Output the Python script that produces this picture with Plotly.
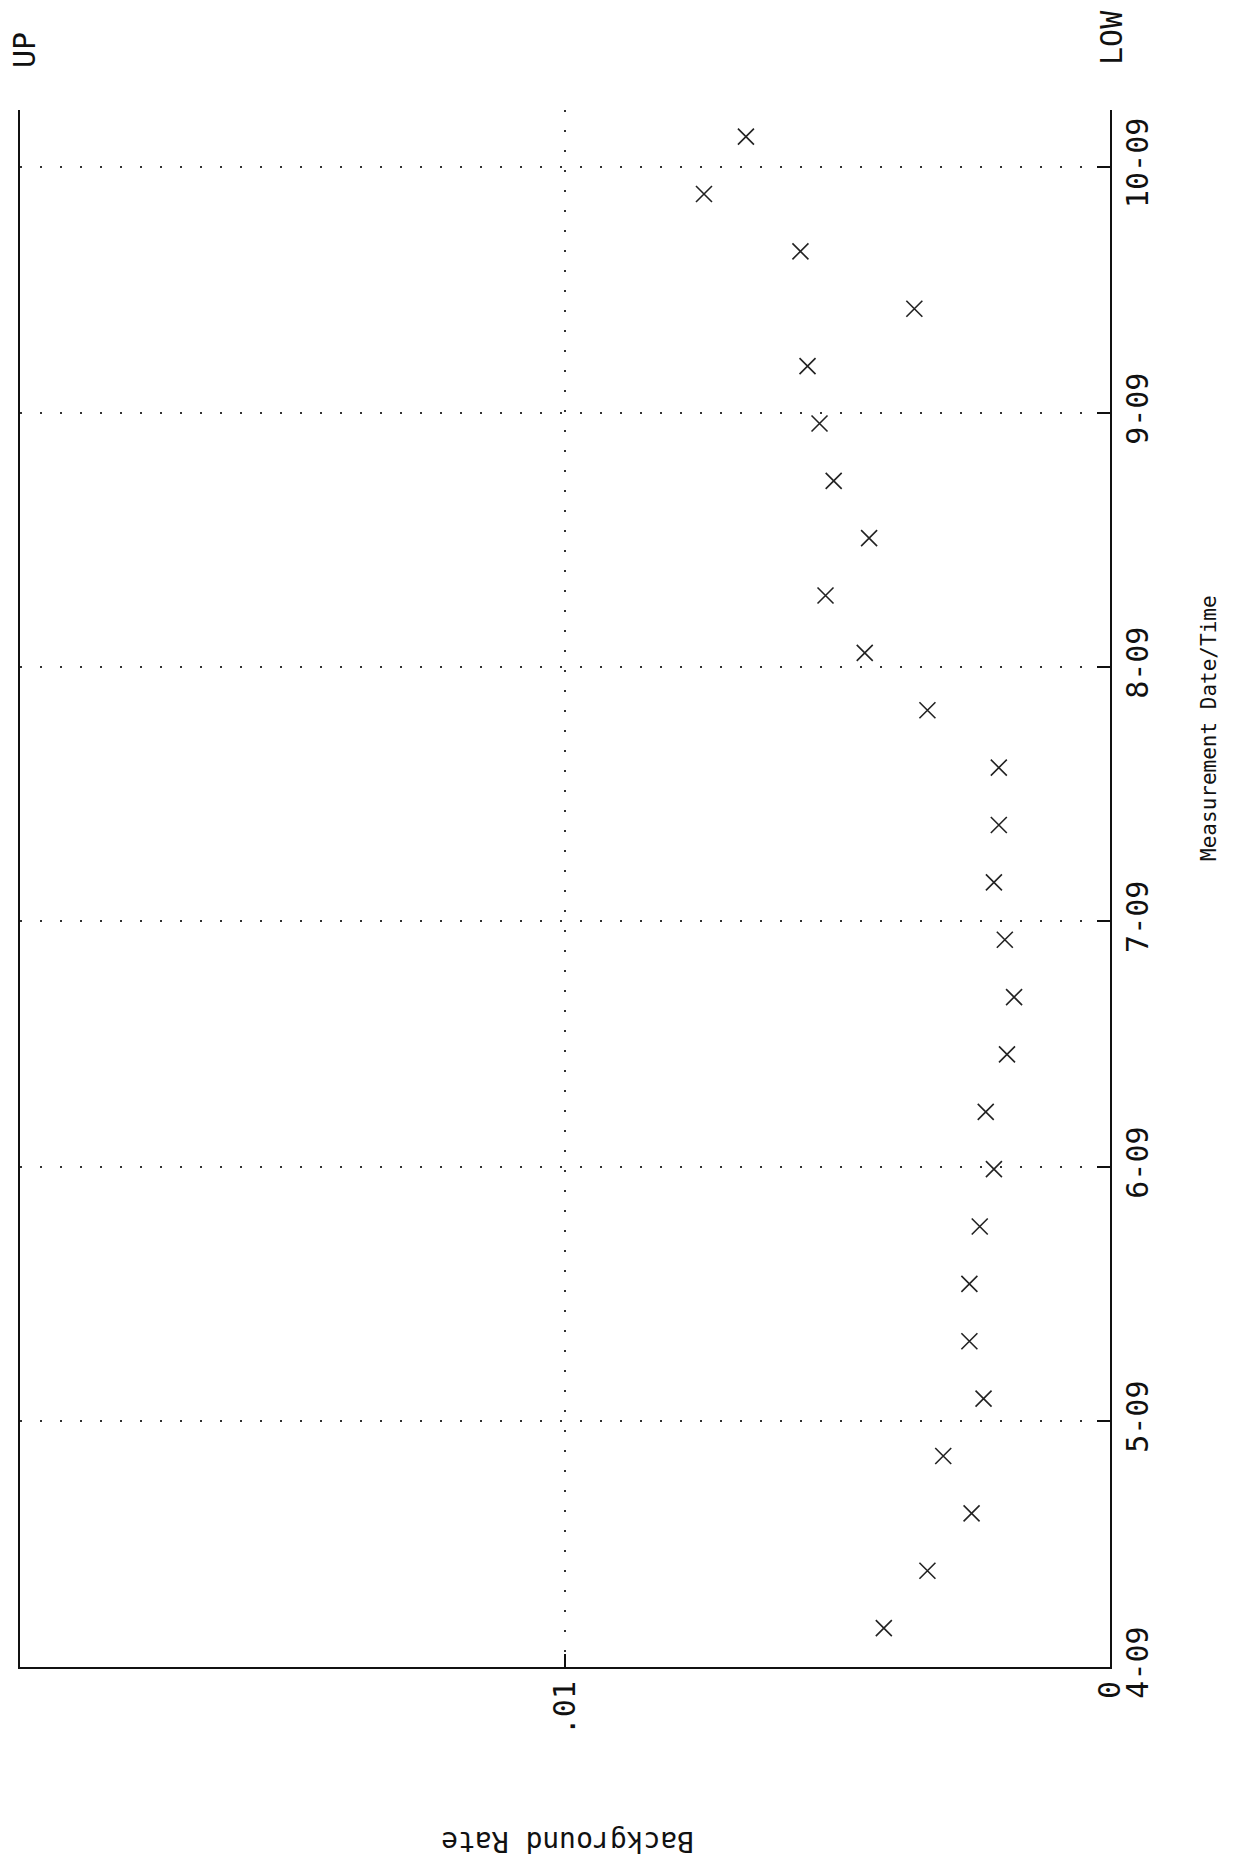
import plotly.graph_objects as go

# ---- data ----
measurement_dates = [
    "2009-04-05 18:00", "2009-04-12 18:00", "2009-04-19 18:00", "2009-04-26 18:00",
    "2009-05-03 18:00", "2009-05-10 18:00", "2009-05-17 18:00", "2009-05-24 18:00",
    "2009-05-31 18:00", "2009-06-07 18:00", "2009-06-14 18:00", "2009-06-21 18:00",
    "2009-06-28 18:00", "2009-07-05 18:00", "2009-07-12 18:00", "2009-07-19 18:00",
    "2009-07-26 18:00", "2009-08-02 18:00", "2009-08-09 18:00", "2009-08-16 18:00",
    "2009-08-23 18:00", "2009-08-30 18:00", "2009-09-06 18:00", "2009-09-13 18:00",
    "2009-09-20 18:00", "2009-09-27 18:00", "2009-10-04 18:00",
]
background_rate = [
    0.00415, 0.00335, 0.00254, 0.00306,
    0.00232, 0.00258, 0.00258, 0.00239,
    0.00213, 0.00228, 0.00189, 0.00176,
    0.00193, 0.00213, 0.00204, 0.00204,
    0.00335, 0.00450, 0.00522, 0.00442,
    0.00507, 0.00533, 0.00555, 0.00359,
    0.00568, 0.00745, 0.00668,
]
rate_tick_values = [0, 0.01]
rate_tick_labels = ["0", ".01"]
date_range = ["2009-04-01", "2009-10-08"]
rate_range = [0.02, 0]

MONO = "DejaVu Sans Mono"
INK = "#111111"

fig = go.Figure()
fig.add_trace(go.Scatter(
    x=background_rate, y=measurement_dates, mode="markers",
    marker=dict(symbol="x-thin", size=16, line=dict(width=1.6, color="#222222"), color="#222222"),
    showlegend=False, hoverinfo="skip",
))

fig.update_layout(
    width=1229, height=1853,
    margin=dict(l=12, r=127, t=102, b=194, autoexpand=False),
    paper_bgcolor="white", plot_bgcolor="white",
    font=dict(family=MONO, color=INK),
    xaxis=dict(
        range=rate_range, showline=True, linecolor=INK, linewidth=2,
        ticks="inside", ticklen=13, tickwidth=2, tickcolor=INK,
        tickvals=rate_tick_values, ticktext=rate_tick_labels, tickangle=-90,
        tickfont=dict(family=MONO, size=30, color=INK),
        showgrid=True, gridcolor="#333333", gridwidth=2, griddash="2px,18px",
        zeroline=False, fixedrange=True,
    ),
    yaxis=dict(
        type="date", range=date_range, side="right",
        showline=True, mirror=True, linecolor=INK, linewidth=2,
        ticks="inside", ticklen=13, tickwidth=2, tickcolor=INK,
        tick0="2009-04-01", dtick="M1", tickformat="%-m-%y", tickangle=-90,
        tickfont=dict(family=MONO, size=30, color=INK),
        showgrid=True, gridcolor="#333333", gridwidth=2, griddash="2px,18px",
        zeroline=False, fixedrange=True,
    ),
    annotations=[
        dict(text="UP", xref="paper", yref="paper", x=0.0037, y=1.0385,
             xanchor="center", yanchor="middle", textangle=-90, showarrow=False,
             font=dict(family=MONO, size=30, color=INK)),
        dict(text="LOW", xref="paper", yref="paper", x=1.0018, y=1.0469,
             xanchor="center", yanchor="middle", textangle=-90, showarrow=False,
             font=dict(family=MONO, size=30, color=INK)),
        dict(text="Measurement Date/Time", xref="paper", yref="paper", x=1.0908, y=0.6031,
             xanchor="center", yanchor="middle", textangle=-90, showarrow=False,
             font=dict(family=MONO, size=21, color=INK)),
        dict(text="Background Rate", xref="paper", yref="paper", x=0.5028, y=-0.1125,
             xanchor="center", yanchor="middle", textangle=180, showarrow=False,
             font=dict(family=MONO, size=28, color=INK)),
    ],
)

fig.write_html("out.html")
